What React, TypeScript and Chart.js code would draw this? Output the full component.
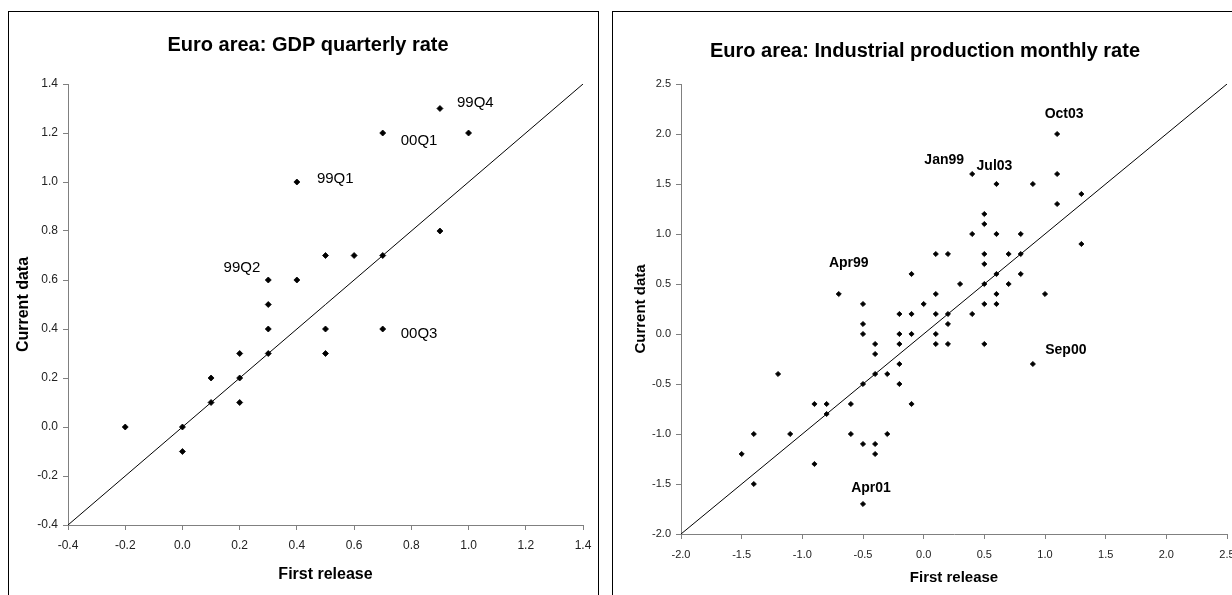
import React, { useEffect, useRef } from 'react';
import { Chart, registerables } from 'chart.js';

Chart.register(...registerables);

const FONT = '"Liberation Sans", Arial, Helvetica, sans-serif';

// ---------- Left chart: GDP quarterly rate ----------
const gdpTitle = 'Euro area: GDP quarterly rate';
const gdpFirst = [-0.2, 0.0, 0.0, 0.1, 0.1, 0.2, 0.2, 0.2, 0.3, 0.3, 0.3, 0.3, 0.4, 0.4, 0.5, 0.5, 0.5, 0.6, 0.7, 0.7, 0.7, 0.9, 0.9, 1.0];
const gdpCurrent = [0.0, 0.0, -0.1, 0.1, 0.2, 0.1, 0.2, 0.3, 0.3, 0.4, 0.5, 0.6, 0.6, 1.0, 0.3, 0.4, 0.7, 0.7, 0.7, 0.4, 1.2, 0.8, 1.3, 1.2];
const gdpAxisRange = [-0.4, 1.4];
const gdpTickStep = 0.2;
const gdpLabelText = ['99Q4', '00Q1', '99Q1', '99Q2', '00Q3'];
const gdpLabelFirst = [0.9, 0.7, 0.4, 0.3, 0.7];
const gdpLabelCurrent = [1.3, 1.2, 1.0, 0.6, 0.4];

// ---------- Right chart: Industrial production monthly rate ----------
const ipTitle = 'Euro area: Industrial production monthly rate';
const ipFirst = [
  1.1,
  0.4, 1.1,
  0.6, 0.9,
  1.3,
  1.1,
  0.5,
  0.5,
  0.4, 0.6, 0.8,
  1.3,
  0.1, 0.2, 0.5, 0.7, 0.8,
  0.5,
  -0.1, 0.6, 0.8,
  0.3, 0.5, 0.7,
  -0.7, 0.1, 0.6, 1.0,
  -0.5, 0.0, 0.5, 0.6,
  -0.2, -0.1, 0.1, 0.2, 0.4,
  -0.5, 0.2,
  -0.5, -0.2, -0.1, 0.1,
  -0.4, -0.2, 0.1, 0.2, 0.5,
  -0.4,
  -0.2, 0.9,
  -1.2, -0.4, -0.3,
  -0.5, -0.2,
  -0.9, -0.8, -0.6, -0.1,
  -0.8,
  -1.4, -1.1, -0.6, -0.3,
  -0.5, -0.4,
  -1.5, -0.4,
  -0.9,
  -1.4,
  -0.5,
];
const ipCurrent = [
  2.0,
  1.6, 1.6,
  1.5, 1.5,
  1.4,
  1.3,
  1.2,
  1.1,
  1.0, 1.0, 1.0,
  0.9,
  0.8, 0.8, 0.8, 0.8, 0.8,
  0.7,
  0.6, 0.6, 0.6,
  0.5, 0.5, 0.5,
  0.4, 0.4, 0.4, 0.4,
  0.3, 0.3, 0.3, 0.3,
  0.2, 0.2, 0.2, 0.2, 0.2,
  0.1, 0.1,
  0.0, 0.0, 0.0, 0.0,
  -0.1, -0.1, -0.1, -0.1, -0.1,
  -0.2,
  -0.3, -0.3,
  -0.4, -0.4, -0.4,
  -0.5, -0.5,
  -0.7, -0.7, -0.7, -0.7,
  -0.8,
  -1.0, -1.0, -1.0, -1.0,
  -1.1, -1.1,
  -1.2, -1.2,
  -1.3,
  -1.5,
  -1.7,
];
const ipAxisRange = [-2.0, 2.5];
const ipTickStep = 0.5;
const ipLabelText = ['Oct03', 'Jul03', 'Jan99', 'Apr99', 'Sep00', 'Apr01'];
const ipLabelFirst = [1.1, 0.6, 0.4, -0.7, 0.9, -0.5];
const ipLabelCurrent = [2.0, 1.5, 1.6, 0.4, -0.3, -1.7];

const xAxisTitle = 'First release';
const yAxisTitle = 'Current data';

// ---------- Styles (label offsets relative to their points, in px) ----------
const gdpLabelStyle: [number, number, CanvasTextAlign][] = [
  [17, -6, 'left'],
  [18, 8, 'left'],
  [20, -3, 'left'],
  [-8, -12, 'right'],
  [18, 5, 'left'],
];
const ipLabelStyle: [number, number, CanvasTextAlign][] = [
  [7, -20, 'center'],
  [-2, -18, 'center'],
  [-28, -14, 'center'],
  [10, -31, 'center'],
  [33, -14, 'center'],
  [8, -16, 'center'],
];

const pointLabelsPlugin = {
  id: 'pointLabels',
  afterDatasetsDraw(chart: any, _args: any, opts: any) {
    const { ctx, scales } = chart;
    const xs = scales.x;
    const ys = scales.y;
    ctx.save();
    ctx.font = opts.font;
    ctx.fillStyle = opts.color;
    ctx.textBaseline = 'middle';
    (opts.items || []).forEach((it: any) => {
      ctx.textAlign = it.align;
      ctx.fillText(it.text, xs.getPixelForValue(it.x) + it.dx, ys.getPixelForValue(it.y) + it.dy);
    });
    ctx.restore();
  },
};

const fmt = (v: any) => (Math.round(Number(v) * 10) / 10).toFixed(1);

type PanelProps = {
  title: string;
  xs: number[];
  ys: number[];
  range: number[];
  step: number;
  labelText: string[];
  labelX: number[];
  labelY: number[];
  labelStyle: [number, number, CanvasTextAlign][];
  labelFont: string;
  width: number;
  height: number;
  left: number;
  top: number;
  padLeft: number;
  padRight: number;
  yAxisWidth: number;
  xAxisHeight: number;
  titlePadTop: number;
  titlePadBottom: number;
  titleFontSize: number;
  axisTitleSize: number;
  yTitlePad: number;
  xTitlePad: number;
  tickFontSize: number;
  xTickPad: number;
  pointRadius: number;
};

function ScatterPanel(p: PanelProps) {
  const ref = useRef<HTMLCanvasElement | null>(null);
  useEffect(() => {
    if (!ref.current) return;
    const points = p.xs.map((x, i) => ({ x, y: p.ys[i] }));
    const diag = p.range.map((v) => ({ x: v, y: v }));
    const items = p.labelText.map((t, i) => ({
      text: t,
      x: p.labelX[i],
      y: p.labelY[i],
      dx: p.labelStyle[i][0],
      dy: p.labelStyle[i][1],
      align: p.labelStyle[i][2],
    }));
    const fixScale = (w?: number, h?: number) => (scale: any) => {
      if (w !== undefined) scale.width = w;
      if (h !== undefined) scale.height = h;
      scale.paddingLeft = 0;
      scale.paddingRight = 0;
      scale.paddingTop = 0;
      scale.paddingBottom = 0;
    };
    const axisCommon = {
      type: 'linear' as const,
      min: p.range[0],
      max: p.range[1],
      grid: {
        display: true,
        drawOnChartArea: false,
        drawTicks: true,
        tickLength: 5,
        color: '#808080',
      },
      border: { display: true, color: '#808080', width: 1 },
    };
    const chart = new Chart(ref.current, {
      type: 'scatter',
      data: {
        datasets: [
          {
            data: points,
            pointStyle: 'rectRot',
            pointRadius: p.pointRadius,
            pointHoverRadius: p.pointRadius,
            backgroundColor: '#000',
            borderColor: '#000',
            borderWidth: 0.8,
          },
          {
            data: diag,
            showLine: true,
            borderColor: '#000',
            borderWidth: 1,
            pointRadius: 0,
            fill: false,
          },
        ],
      },
      options: {
        animation: false,
        responsive: false,
        devicePixelRatio: 1,
        layout: { padding: { left: p.padLeft, right: p.padRight, top: 0, bottom: 0 } },
        plugins: {
          legend: { display: false },
          tooltip: { enabled: false },
          title: {
            display: true,
            text: p.title,
            color: '#000',
            font: { family: FONT, size: p.titleFontSize, weight: 'bold', lineHeight: 1.2 },
            padding: { top: p.titlePadTop, bottom: p.titlePadBottom },
          },
          pointLabels: { items, font: p.labelFont, color: '#000' },
        } as any,
        scales: {
          x: {
            ...axisCommon,
            position: 'bottom',
            afterFit: fixScale(undefined, p.xAxisHeight),
            ticks: {
              stepSize: p.step,
              autoSkip: false,
              maxRotation: 0,
              minRotation: 0,
              padding: p.xTickPad,
              color: '#222',
              font: { family: FONT, size: p.tickFontSize, lineHeight: 1.2 },
              callback: fmt,
            },
            title: {
              display: true,
              text: xAxisTitle,
              color: '#000',
              font: { family: FONT, size: p.axisTitleSize, weight: 'bold', lineHeight: 1.2 },
              padding: { top: 0, bottom: p.xTitlePad },
            },
          },
          y: {
            ...axisCommon,
            position: 'left',
            afterFit: fixScale(p.yAxisWidth, undefined),
            ticks: {
              stepSize: p.step,
              autoSkip: false,
              padding: 5,
              color: '#222',
              font: { family: FONT, size: p.tickFontSize, lineHeight: 1.2 },
              callback: fmt,
            },
            title: {
              display: true,
              text: yAxisTitle,
              color: '#000',
              font: { family: FONT, size: p.axisTitleSize, weight: 'bold', lineHeight: 1.2 },
              padding: { top: p.yTitlePad, bottom: 0 },
            },
          },
        },
      } as any,
      plugins: [pointLabelsPlugin],
    });
    return () => chart.destroy();
  }, []);
  return (
    <canvas
      ref={ref}
      width={p.width}
      height={p.height}
      style={{ position: 'absolute', left: p.left, top: p.top, width: p.width, height: p.height }}
    />
  );
}

export default function App() {
  return (
    <div
      style={{
        position: 'fixed',
        left: 0,
        top: 0,
        width: 1232,
        height: 595,
        overflow: 'hidden',
        background: '#fff',
      }}
    >
      <div
        style={{
          position: 'absolute',
          left: 8,
          top: 11,
          width: 591,
          height: 600,
          border: '1px solid #000',
          boxSizing: 'border-box',
        }}
      />
      <div
        style={{
          position: 'absolute',
          left: 612,
          top: 11,
          width: 640,
          height: 600,
          border: '1px solid #000',
          boxSizing: 'border-box',
        }}
      />
      <ScatterPanel
        title={gdpTitle}
        xs={gdpFirst}
        ys={gdpCurrent}
        range={gdpAxisRange}
        step={gdpTickStep}
        labelText={gdpLabelText}
        labelX={gdpLabelFirst}
        labelY={gdpLabelCurrent}
        labelStyle={gdpLabelStyle}
        labelFont={`15px ${FONT}`}
        width={588}
        height={583}
        left={9}
        top={12}
        padLeft={24}
        padRight={14}
        yAxisWidth={35}
        xAxisHeight={70}
        titlePadTop={21}
        titlePadBottom={27}
        titleFontSize={20}
        axisTitleSize={16}
        yTitlePad={-19.2}
        xTitlePad={10.4}
        tickFontSize={12}
        xTickPad={8.8}
        pointRadius={3}
      />
      <ScatterPanel
        title={ipTitle}
        xs={ipFirst}
        ys={ipCurrent}
        range={ipAxisRange}
        step={ipTickStep}
        labelText={ipLabelText}
        labelX={ipLabelFirst}
        labelY={ipLabelCurrent}
        labelStyle={ipLabelStyle}
        labelFont={`bold 14px ${FONT}`}
        width={627}
        height={583}
        left={613}
        top={12}
        padLeft={10}
        padRight={13}
        yAxisWidth={58}
        xAxisHeight={61}
        titlePadTop={27}
        titlePadBottom={21}
        titleFontSize={20}
        axisTitleSize={15}
        yTitlePad={9}
        xTitlePad={8}
        tickFontSize={11}
        xTickPad={9.4}
        pointRadius={2.6}
      />
    </div>
  );
}
